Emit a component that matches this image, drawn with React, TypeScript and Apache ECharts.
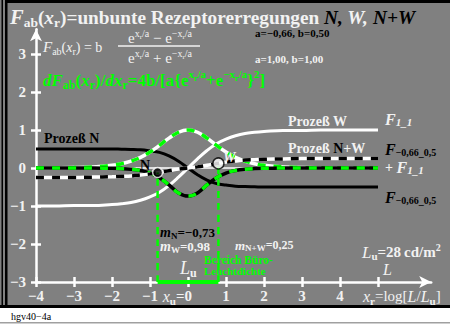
import React, { useEffect, useRef } from 'react';
import * as echarts from 'echarts';

// sample positions along x (log luminance)
const xs = [-4, -3.5, -3, -2.5, -2, -1.75, -1.5, -1.25, -1, -0.75, -0.5, -0.25, 0, 0.25, 0.5, 0.75, 1, 1.25, 1.5, 1.75, 2, 2.5, 3, 3.5, 4, 4.5, 5];
// Prozeß N (black)
const procN = [0.5, 0.5, 0.5, 0.5, 0.5, 0.495, 0.49, 0.48, 0.45, 0.41, 0.32, 0.18, 0, -0.18, -0.32, -0.41, -0.45, -0.48, -0.49, -0.495, -0.5, -0.5, -0.5, -0.5, -0.5, -0.5, -0.5];
// Prozeß W (white)
const procW = [-1, -1, -0.99, -0.99, -0.96, -0.94, -0.91, -0.85, -0.76, -0.64, -0.46, -0.24, 0, 0.24, 0.46, 0.64, 0.76, 0.85, 0.91, 0.94, 0.96, 0.99, 0.99, 1, 1, 1, 1];
// Prozeß N+W (black/white dashed)
const procNW = [-0.25, -0.25, -0.25, -0.24, -0.23, -0.22, -0.21, -0.185, -0.155, -0.115, -0.07, -0.03, 0, 0.03, 0.07, 0.115, 0.155, 0.185, 0.21, 0.22, 0.23, 0.24, 0.25, 0.25, 0.25, 0.25, 0.25];
// derivative of N (green/black dashed)
const slopeN = [0, 0, 0, -0.002, -0.007, -0.015, -0.031, -0.066, -0.133, -0.257, -0.447, -0.658, -0.74, -0.658, -0.447, -0.257, -0.133, -0.066, -0.031, -0.015, -0.007, -0.002, 0, 0, 0, 0, 0];
// derivative of W (green/white dashed)
const slopeW = [0.001, 0.004, 0.01, 0.027, 0.071, 0.113, 0.181, 0.278, 0.42, 0.597, 0.786, 0.941, 1, 0.941, 0.786, 0.597, 0.42, 0.278, 0.181, 0.113, 0.071, 0.027, 0.01, 0.004, 0.001, 0, 0];
// marked points N and W
const markX = [-0.8, 0.8];
const markY = [-0.12, 0.12];
const xTicks = [-4, -3, -2, -1, 0, 1, 2, 3, 4, 5];
const yTicks = [-3, -2, -1, 0, 1, 2, 3];

const SERIF = '"Liberation Serif", "Times New Roman", serif';
const TW = '#f2f2f2';
const GREEN = '#00ff00';
const GRAY = '#808080';

const fmt = (v: number) => (v < 0 ? '\u2212' + Math.abs(v) : String(v));

function rs(size: number, fill: string, opts: any = {}) {
  return { fontSize: size, fill, color: fill, fontFamily: SERIF, fontWeight: opts.b ? 'bold' : 'normal', fontStyle: opts.i ? 'italic' : 'normal', padding: opts.p || [0, 0, 0, 0] };
}

function txt(x: number, y: number, text: string, rich: any, base: any = {}, align = 'left') {
  const style: any = {
    text, rich, align, verticalAlign: 'middle',
    fontFamily: SERIF, fontSize: base.size || 14, fontWeight: base.b ? 'bold' : 'normal', fontStyle: base.i ? 'italic' : 'normal',
    fill: base.fill || TW,
  };
  if (base.lh) style.lineHeight = base.lh;
  return { type: 'text', x, y, z: 100, style };
}

export default function App() {
  const ref = useRef<HTMLDivElement>(null);
  useEffect(() => {
    if (!ref.current) return;
    const chart = echarts.init(ref.current, undefined, { renderer: 'svg' });
    const pts = (ys: number[]) => xs.map((x, i) => [x, ys[i]]);
    const lineS = (data: any, color: string, width: number, type: any = 'solid', z = 2) => ({
      type: 'line', data, smooth: 0.4, symbol: 'none', clip: false, silent: true, z,
      lineStyle: { color, width, type, cap: 'butt' },
    });

    const graphic: any[] = [
      // frame
      { type: 'rect', shape: { x: 0, y: 307, width: 450, height: 18 }, style: { fill: '#ffffff' }, z: 50 },
      { type: 'rect', shape: { x: 0, y: 0, width: 5, height: 307 }, style: { fill: GRAY }, z: 50 },
      { type: 'rect', shape: { x: 1.5, y: 0, width: 1.5, height: 307 }, style: { fill: '#000' }, z: 51 },
      { type: 'rect', shape: { x: 5, y: 0, width: 2.5, height: 307 }, style: { fill: '#000' }, z: 51 },
      { type: 'rect', shape: { x: 5, y: 0, width: 445, height: 3 }, style: { fill: '#000' }, z: 51 },
      { type: 'rect', shape: { x: 0, y: 305, width: 450, height: 3 }, style: { fill: '#000' }, z: 51 },
      { type: 'rect', shape: { x: 0, y: 322, width: 450, height: 1.5 }, style: { fill: '#a0a0a0' }, z: 51 },
      txt(11, 316, 'hgv40\u22124a', {}, { size: 10, fill: '#000' }),
      // title
      txt(10, 17, '{F|F}{s|ab}{t|(}{xi|x}{s|r}{t|)=unbunte Rezeptorerregungen }{bN|N,}{wN| W,}{bN| N+W}', {
        F: rs(20.5, TW, { i: 1, b: 1 }), s: rs(13.5, TW, { b: 1, p: [10, 0, 0, 0] }), t: rs(19.3, TW, { b: 1 }),
        xi: rs(19.3, TW, { i: 1, b: 1 }), bN: rs(19.3, '#000', { i: 1, b: 1 }), wN: rs(19.3, TW, { i: 1, b: 1 }),
      }),
      // formula
      txt(43, 47, '{F|F}{s|ab}{t|(}{xi|x}{s|r}{t|) = b}', {
        F: rs(15, TW, { i: 1 }), s: rs(10, TW, { p: [9, 0, 0, 0] }), t: rs(14, TW), xi: rs(14, TW, { i: 1 }),
      }),
      txt(160, 38, '{e|e}{sx|x}{sr|r}{sx|/a}{e| \u2212 e}{sx|\u2212x}{sr|r}{sx|/a}', {
        e: rs(15, TW), sx: rs(10, TW, { i: 0, p: [0, 0, 10, 0] }), sr: rs(7, TW, { p: [0, 0, 2, 0] }),
      }, {}, 'center'),
      { type: 'line', shape: { x1: 118, y1: 46, x2: 200, y2: 46 }, style: { stroke: TW, lineWidth: 1.5 }, z: 100 },
      txt(160, 58, '{e|e}{sx|x}{sr|r}{sx|/a}{e| + e}{sx|\u2212x}{sr|r}{sx|/a}', {
        e: rs(15, TW), sx: rs(10, TW, { p: [0, 0, 10, 0] }), sr: rs(7, TW, { p: [0, 0, 2, 0] }),
      }, {}, 'center'),
      // derivative formula (green)
      txt(43, 80, '{d|dF}{s|ab}{p|(}{x|x}{s|r}{p|)/}{d|d}{x|x}{s|r}{p|=4b/[a}{{p|e}{sx|x}{sr|r}{sx|/a}{p|+e}{sx|\u2212x}{sr|r}{sx|/a}}{sx|2}{p|]}', {
        d: rs(17, GREEN, { i: 1, b: 1 }), s: rs(12, GREEN, { b: 1, p: [10, 0, 0, 0] }), p: rs(17, GREEN, { b: 1 }),
        x: rs(17, GREEN, { i: 1, b: 1 }), sx: rs(11, GREEN, { b: 1, p: [0, 0, 12, 0] }), sr: rs(8, GREEN, { b: 1, p: [0, 0, 4, 0] }),
      }, { size: 17, b: 1, fill: GREEN }),
      // parameters
      txt(255, 33, 'a=\u22120,66, b=0,50', {}, { size: 11, b: 1, fill: '#000' }),
      txt(255, 59, 'a=1,00, b=1,00', {}, { size: 11, b: 1, fill: TW }),
      // process labels
      txt(44, 138, 'Prozeß N', {}, { size: 14, b: 1, fill: '#000' }),
      txt(288, 121, 'Prozeß W', {}, { size: 14, b: 1, fill: TW }),
      txt(288, 148, '{w|Prozeß }{k|N}{w|+W}', { w: rs(14, TW, { b: 1 }), k: rs(14, '#000', { b: 1 }) }),
      // right-hand labels
      txt(385, 119, '{F|F}{s|1_1}', { F: rs(16, TW, { i: 1, b: 1 }), s: rs(11, TW, { i: 1, b: 1, p: [6, 0, 0, 0] }) }),
      txt(385, 149, '{F|F}{s|\u22120,66_0,5}', { F: rs(16, '#000', { i: 1, b: 1 }), s: rs(10, '#000', { b: 1, p: [6, 0, 0, 0] }) }),
      txt(385, 167, '{t|+ }{F|F}{s|1_1}', { t: rs(14, TW, { b: 1 }), F: rs(16, TW, { i: 1, b: 1 }), s: rs(11, TW, { i: 1, b: 1, p: [6, 0, 0, 0] }) }),
      txt(385, 197, '{F|F}{s|\u22120,66_0,5}', { F: rs(16, '#000', { i: 1, b: 1 }), s: rs(10, '#000', { b: 1, p: [6, 0, 0, 0] }) }),
      // point labels
      txt(140, 165, 'N', {}, { size: 14, b: 1, fill: '#000' }),
      txt(223, 157, 'W', {}, { size: 14, b: 1, i: 1, fill: TW }),
      // slopes
      txt(160, 232, '{m|m}{s|N}{t|=\u22120,73}', { m: rs(14, '#000', { i: 1, b: 1 }), s: rs(9, '#000', { b: 1, p: [7, 0, 0, 0] }), t: rs(13, '#000', { b: 1 }) }),
      txt(160, 246, '{m|m}{s|W}{t|=0,98}', { m: rs(14, TW, { i: 1, b: 1 }), s: rs(9, TW, { b: 1, p: [7, 0, 0, 0] }), t: rs(13, TW, { b: 1 }) }),
      txt(235, 245, '{m|m}{s|N+W}{t|=0,25}', { m: rs(13, TW, { i: 1, b: 1 }), s: rs(9, TW, { b: 1, p: [6, 0, 0, 0] }), t: rs(12, TW, { b: 1 }) }),
      txt(180, 268, '{L|L}{s|u}', { L: rs(18, TW, { i: 1 }), s: rs(12, TW, { b: 1, p: [9, 0, 0, 0] }) }),
      txt(204, 259.5, 'Bereich Büro-', {}, { size: 11.5, b: 1, fill: GREEN }),
      txt(204, 271, 'Leuchtdichte', {}, { size: 11, b: 1, fill: GREEN }),
      txt(362, 252, '{L|L}{s|u}{t|=28\u2009cd/m}{sp|2}', { L: rs(17, TW, { i: 1 }), s: rs(11, TW, { b: 1, p: [8, 0, 0, 0] }), t: rs(15, TW, { b: 1 }), sp: rs(10, TW, { b: 1, p: [0, 0, 10, 0] }) }),
      txt(383, 269, 'L', {}, { size: 16, i: 1, fill: TW }),
      // axis captions
      txt(192, 296, '{x|x}{s|u}{t|=0}', { x: rs(16, TW, { i: 1 }), s: rs(11, TW, { b: 1, p: [9, 0, 0, 0] }), t: rs(15, TW, { b: 1 }) }, {}, 'right'),
      txt(363, 296, '{x|x}{s|r}{t|=log[}{x|L}{t|/}{x|L}{s|u}{t|]}', { x: rs(16, TW, { i: 1 }), s: rs(11, TW, { b: 1, p: [9, 0, 0, 0] }), t: rs(15, TW) }),
    ];

    const axisLine = { show: true, onZero: false, lineStyle: { color: '#ffffff', width: 2.5 }, symbol: ['none', 'arrow'], symbolSize: [9, 12] };

    chart.setOption({
      animation: false,
      backgroundColor: GRAY,
      grid: { left: 36, right: 18.8, top: 29.3, bottom: 43, outerBoundsMode: 'none', containLabel: false },
      xAxis: [
        {
          type: 'value', min: -4, max: 6.4, axisLine, splitLine: { show: false },
          axisTick: { show: true, length: 5, customValues: xTicks, lineStyle: { color: '#ffffff', width: 2.5 } },
          axisLabel: {
            customValues: xTicks, margin: 6, color: TW, fontFamily: SERIF, fontWeight: 'bold', fontSize: 15,
            formatter: (v: number) => (v === 0 || v === 5 ? '' : fmt(v)),
          },
        },
        {
          type: 'value', min: -4, max: 6.4, position: 'bottom',
          axisLine: { show: false, onZero: false }, splitLine: { show: false }, axisLabel: { show: false },
          axisTick: { show: true, inside: true, length: 5, customValues: xTicks, lineStyle: { color: '#ffffff', width: 2.5 } },
        },
      ],
      yAxis: [
        {
          type: 'value', min: -3, max: 3.65, axisLine, splitLine: { show: false },
          axisTick: { show: true, length: 5, customValues: yTicks, lineStyle: { color: '#ffffff', width: 2.5 } },
          axisLabel: { customValues: yTicks, margin: 10, color: TW, fontFamily: SERIF, fontWeight: 'bold', fontSize: 15, formatter: (v: number) => fmt(v) },
        },
        {
          type: 'value', min: -3, max: 3.65, position: 'left',
          axisLine: { show: false, onZero: false }, splitLine: { show: false }, axisLabel: { show: false },
          axisTick: { show: true, inside: true, length: 5, customValues: yTicks, lineStyle: { color: '#ffffff', width: 2.5 } },
        },
      ],
      series: [
        lineS([[xs[0], 0], [xs[xs.length - 1], 0]], '#ffffff', 1.5),
        lineS(pts(procN), '#000000', 3),
        lineS(pts(procW), '#ffffff', 3),
        lineS(pts(slopeW), '#ffffff', 3.5, 'solid', 3),
        lineS(pts(slopeW), GREEN, 3.5, [8, 8], 3),
        lineS(pts(slopeN), '#000000', 3.5, 'solid', 3),
        lineS(pts(slopeN), GREEN, 3.5, [8, 8], 3),
        lineS(pts(procNW), '#ffffff', 3.5, 'solid', 4),
        lineS(pts(procNW), '#000000', 3.5, [8, 8], 4),
        lineS([[markX[0], -3], [markX[0], markY[0]]], GREEN, 2.5, [7, 5], 4),
        lineS([[markX[1], -3], [markX[1], markY[1]]], GREEN, 2.5, [7, 5], 4),
        lineS([[markX[0], -3], [markX[1], -3]], GREEN, 4, 'solid', 5),
        {
          type: 'scatter', z: 6, silent: true, clip: false,
          data: [
            { value: [markX[0], markY[0]], symbolSize: 10, itemStyle: { color: '#000', borderColor: '#fff', borderWidth: 1.5 } },
            { value: [markX[1], markY[1]], symbolSize: 11, itemStyle: { color: '#fff', borderColor: '#000', borderWidth: 1.5 } },
          ],
        },
      ],
      graphic,
    });
    return () => chart.dispose();
  }, []);
  return <div ref={ref} style={{ position: 'absolute', left: 0, top: 0, width: 450, height: 325 }} />;
}
